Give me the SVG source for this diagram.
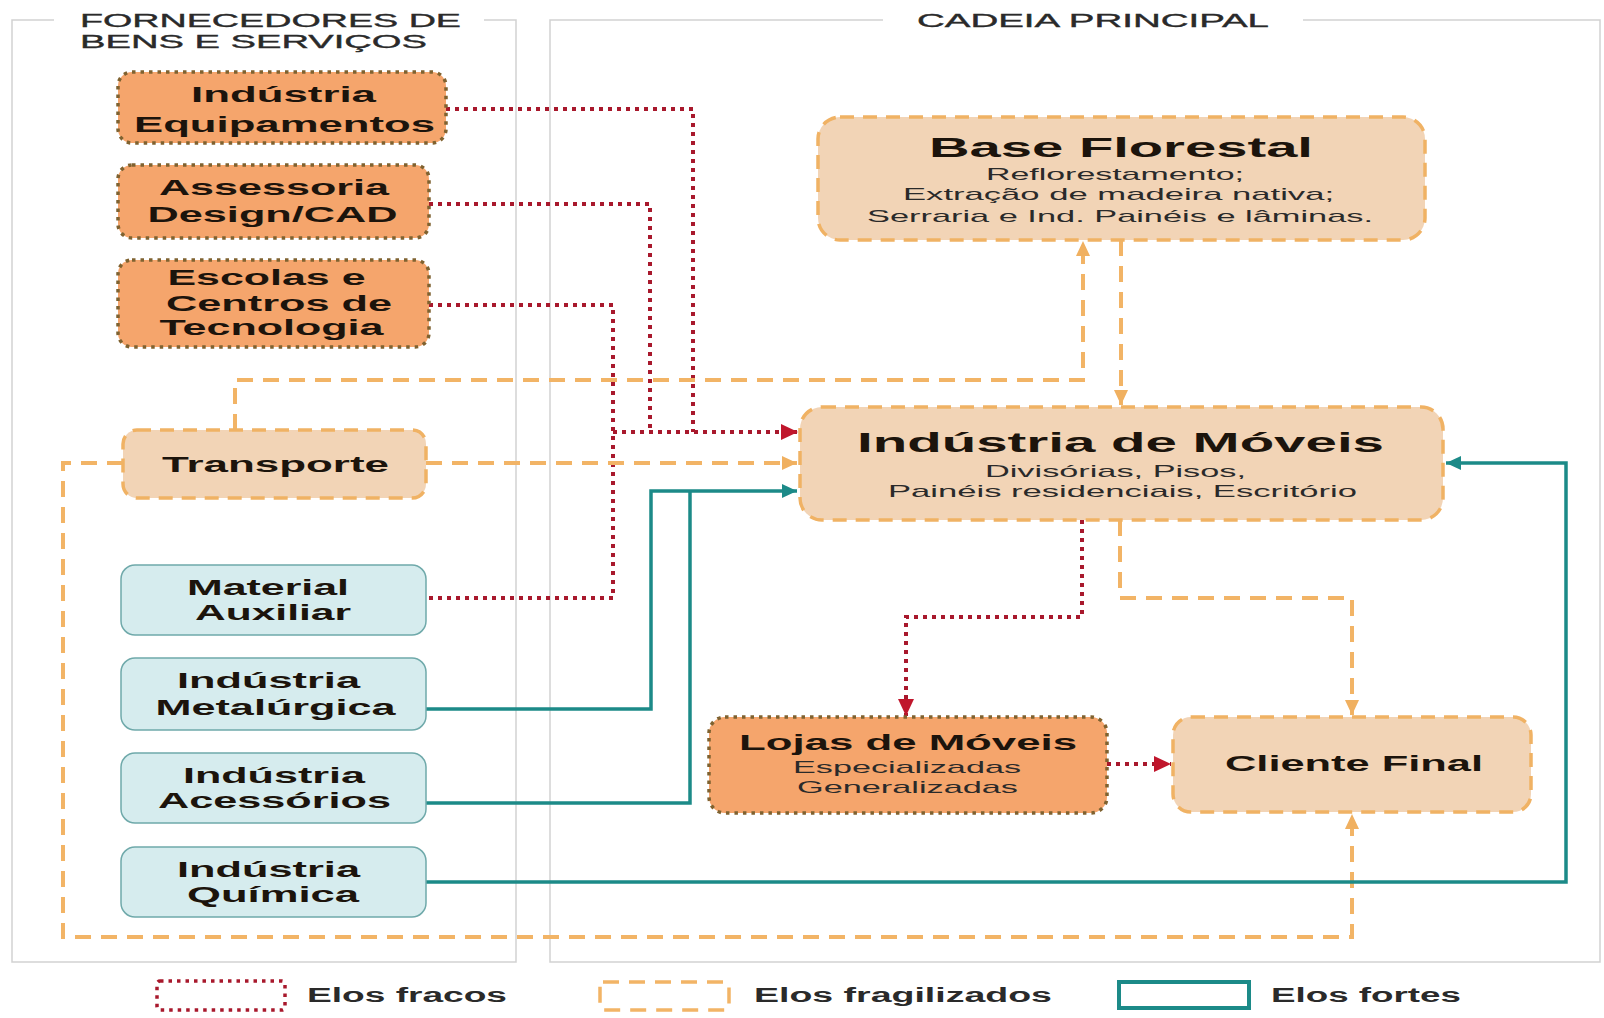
<svg xmlns="http://www.w3.org/2000/svg" width="1604" height="1018" viewBox="0 0 1604 1018">
<style>
text{font-family:"Liberation Sans",Arial,sans-serif;fill:#1c140c}
.t{font-size:18px;fill:#2a2a2a;stroke:#2a2a2a;stroke-width:0.35}
.lb{font-size:22px;font-weight:bold;text-anchor:middle}
.big{font-size:27px;font-weight:bold;text-anchor:middle}
.sub{font-size:17px;text-anchor:middle;fill:#2a2a2a}
.lg{font-size:20px;font-weight:bold;fill:#2a2a2a}
.frame{fill:none;stroke:#d2d2d2;stroke-width:1.5}
.nWeak{fill:#f5a56c;stroke:#7f6230;stroke-width:3.5;stroke-dasharray:3.5 5}
.nFrag{fill:#f2d4b6;stroke:#f0b264;stroke-width:3.5;stroke-dasharray:14 9}
.nStrong{fill:#d6ecee;stroke:#6fa9aa;stroke-width:1.5}
.cWeak{fill:none;stroke:#a8182c;stroke-width:4;stroke-dasharray:4 5}
.cFrag{fill:none;stroke:#f2b466;stroke-width:4;stroke-dasharray:16 10}
.cStrong{fill:none;stroke:#1c8a88;stroke-width:3.5}
</style>
<defs>
<marker id="aRed" markerWidth="18" markerHeight="16" refX="17" refY="8" orient="auto" markerUnits="userSpaceOnUse"><path d="M0,0 L17,8 L0,16 z" fill="#c0162c"/></marker>
<marker id="aOr" markerWidth="16" markerHeight="14" refX="15" refY="7" orient="auto" markerUnits="userSpaceOnUse"><path d="M0,0 L15,7 L0,14 z" fill="#f0b060"/></marker>
<marker id="aTe" markerWidth="16" markerHeight="14" refX="15" refY="7" orient="auto" markerUnits="userSpaceOnUse"><path d="M0,0 L15,7 L0,14 z" fill="#1c8a88"/></marker>
</defs>
<rect width="1604" height="1018" fill="#ffffff"/>

<g id="panels">
<path class="frame" d="M54,20 H12 V962 H516 V20 H484"/>
<path class="frame" d="M883,20 H550 V962 H1600 V20 H1303"/>
<text class="t" x="80" y="27" textLength="381" lengthAdjust="spacingAndGlyphs">FORNECEDORES DE</text>
<text class="t" x="80" y="48" textLength="347" lengthAdjust="spacingAndGlyphs">BENS E SERVIÇOS</text>
<text class="t" x="917" y="27" textLength="352" lengthAdjust="spacingAndGlyphs">CADEIA PRINCIPAL</text>
</g>

<g id="connectors">
<path class="cWeak" d="M446,109 H693 V432"/>
<path class="cWeak" d="M429,204 H650 V432"/>
<path class="cWeak" d="M429,305 H613 V598 H426"/>
<path class="cWeak" d="M613,432 H798" marker-end="url(#aRed)"/>
<path class="cWeak" d="M1082,520 V617 H906 V716" marker-end="url(#aRed)"/>
<path class="cWeak" d="M1107,764 H1171" marker-end="url(#aRed)"/>
<path class="cFrag" d="M235,430 V380 H1083 V241" marker-end="url(#aOr)"/>
<path class="cFrag" d="M1121,240 V405" marker-end="url(#aOr)"/>
<path class="cFrag" d="M426,463 H797" marker-end="url(#aOr)"/>
<path class="cFrag" d="M123,463 H63 V937 H1352 V814" marker-end="url(#aOr)"/>
<path class="cFrag" d="M1120,520 V598 H1352 V715" marker-end="url(#aOr)"/>
<path class="cStrong" d="M426,709 H651 V491 H797" marker-end="url(#aTe)"/>
<path class="cStrong" d="M426,803 H690 V491"/>
<path class="cStrong" d="M426,882 H1566 V463 H1446" marker-end="url(#aTe)"/>
</g>

<g id="n-equipamentos">
<rect class="nWeak" x="118" y="72" width="328" height="71" rx="14"/>
<text class="lb" x="283.5" y="102" textLength="185" lengthAdjust="spacingAndGlyphs">Indústria</text>
<text class="lb" x="284.5" y="132" textLength="301" lengthAdjust="spacingAndGlyphs">Equipamentos</text>
</g>
<g id="n-assessoria">
<rect class="nWeak" x="118" y="165" width="311" height="73" rx="14"/>
<text class="lb" x="274" y="195" textLength="230" lengthAdjust="spacingAndGlyphs">Assessoria</text>
<text class="lb" x="272.5" y="222" textLength="250" lengthAdjust="spacingAndGlyphs">Design/CAD</text>
</g>
<g id="n-escolas">
<rect class="nWeak" x="118" y="260" width="311" height="87" rx="14"/>
<text class="lb" x="266.5" y="285" textLength="198" lengthAdjust="spacingAndGlyphs">Escolas e</text>
<text class="lb" x="279" y="311" textLength="226" lengthAdjust="spacingAndGlyphs">Centros de</text>
<text class="lb" x="271.5" y="335" textLength="224" lengthAdjust="spacingAndGlyphs">Tecnologia</text>
</g>
<g id="n-transporte">
<rect class="nFrag" x="123" y="430" width="303" height="68" rx="14"/>
<text class="lb" x="275.5" y="472" textLength="227" lengthAdjust="spacingAndGlyphs">Transporte</text>
</g>
<g id="n-material">
<rect class="nStrong" x="121" y="565" width="305" height="70" rx="14"/>
<text class="lb" x="268" y="595" textLength="162" lengthAdjust="spacingAndGlyphs">Material</text>
<text class="lb" x="273" y="620" textLength="156" lengthAdjust="spacingAndGlyphs">Auxiliar</text>
</g>
<g id="n-metalurgica">
<rect class="nStrong" x="121" y="658" width="305" height="72" rx="14"/>
<text class="lb" x="268.5" y="688" textLength="183" lengthAdjust="spacingAndGlyphs">Indústria</text>
<text class="lb" x="275.5" y="715" textLength="240" lengthAdjust="spacingAndGlyphs">Metalúrgica</text>
</g>
<g id="n-acessorios">
<rect class="nStrong" x="121" y="753" width="305" height="70" rx="14"/>
<text class="lb" x="274" y="783" textLength="182" lengthAdjust="spacingAndGlyphs">Indústria</text>
<text class="lb" x="274.5" y="808" textLength="233" lengthAdjust="spacingAndGlyphs">Acessórios</text>
</g>
<g id="n-quimica">
<rect class="nStrong" x="121" y="847" width="305" height="70" rx="14"/>
<text class="lb" x="268.5" y="877" textLength="183" lengthAdjust="spacingAndGlyphs">Indústria</text>
<text class="lb" x="273" y="902" textLength="172" lengthAdjust="spacingAndGlyphs">Química</text>
</g>

<g id="n-base-florestal">
<rect class="nFrag" x="818" y="117" width="607" height="123" rx="22"/>
<text class="big" x="1121" y="157" textLength="384" lengthAdjust="spacingAndGlyphs">Base Florestal</text>
<text class="sub" x="1115" y="180" textLength="258" lengthAdjust="spacingAndGlyphs">Reflorestamento;</text>
<text class="sub" x="1118.5" y="200" textLength="431" lengthAdjust="spacingAndGlyphs">Extração de madeira nativa;</text>
<text class="sub" x="1120" y="222" textLength="506" lengthAdjust="spacingAndGlyphs">Serraria e Ind. Painéis e lâminas.</text>
</g>
<g id="n-industria-moveis">
<rect class="nFrag" x="800" y="407" width="643" height="113" rx="22"/>
<text class="big" x="1120.5" y="452" textLength="527" lengthAdjust="spacingAndGlyphs">Indústria de Móveis</text>
<text class="sub" x="1115.5" y="477" textLength="261" lengthAdjust="spacingAndGlyphs">Divisórias, Pisos,</text>
<text class="sub" x="1122.5" y="497" textLength="469" lengthAdjust="spacingAndGlyphs">Painéis residenciais, Escritório</text>
</g>
<g id="n-lojas">
<rect class="nWeak" x="709" y="717" width="398" height="96" rx="16"/>
<text class="lb" x="908" y="750" font-size="21" textLength="338" lengthAdjust="spacingAndGlyphs">Lojas de Móveis</text>
<text class="sub" x="907" y="773" textLength="228" lengthAdjust="spacingAndGlyphs">Especializadas</text>
<text class="sub" x="907.5" y="793" textLength="221" lengthAdjust="spacingAndGlyphs">Generalizadas</text>
</g>
<g id="n-cliente">
<rect class="nFrag" x="1173" y="717" width="358" height="95" rx="18"/>
<text class="lb" x="1354" y="771" textLength="258" lengthAdjust="spacingAndGlyphs">Cliente Final</text>
</g>

<g id="legend">
<rect x="157" y="981" width="128" height="29" rx="3" fill="none" stroke="#a8182c" stroke-width="3.5" stroke-dasharray="3.5 5"/>
<text class="lg" x="307" y="1002" textLength="200" lengthAdjust="spacingAndGlyphs">Elos fracos</text>
<rect x="600" y="982" width="129" height="28" rx="3" fill="none" stroke="#f2b466" stroke-width="3.5" stroke-dasharray="16 10"/>
<text class="lg" x="754" y="1002" textLength="298" lengthAdjust="spacingAndGlyphs">Elos fragilizados</text>
<rect x="1119" y="982" width="130" height="26" fill="none" stroke="#1c8a88" stroke-width="4"/>
<text class="lg" x="1271" y="1002" textLength="190" lengthAdjust="spacingAndGlyphs">Elos fortes</text>
</g>
</svg>
